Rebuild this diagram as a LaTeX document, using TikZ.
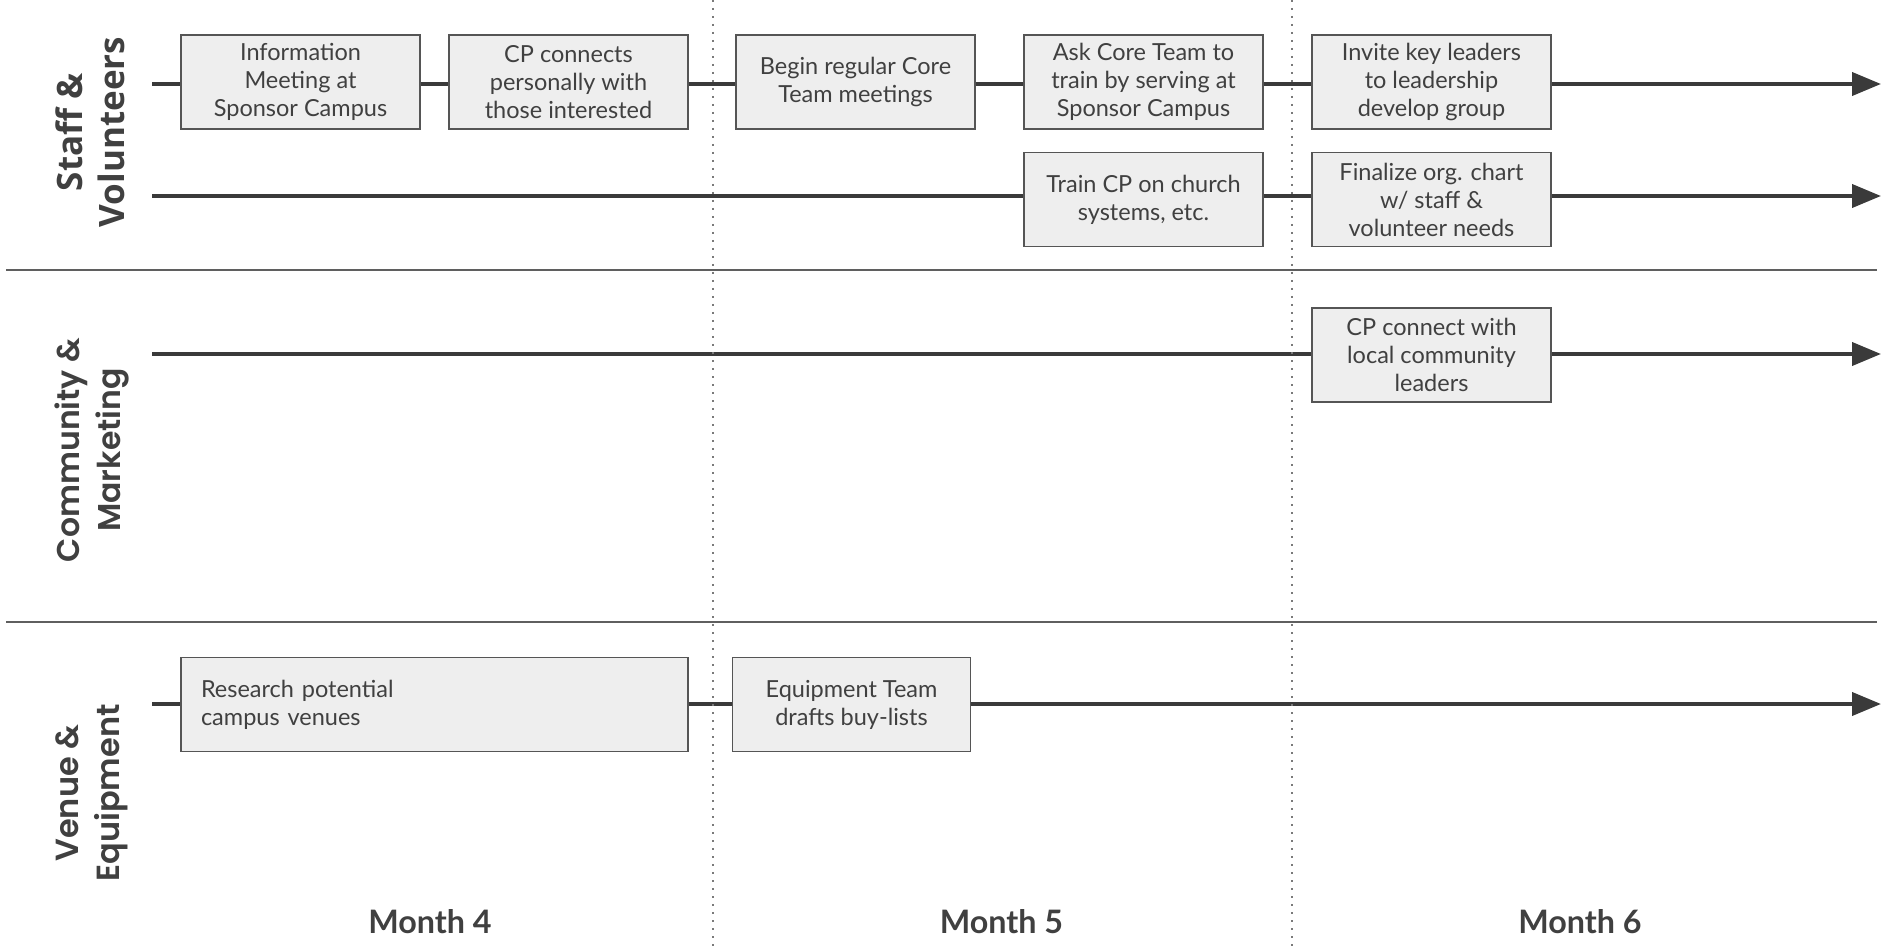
\documentclass[tikz,border=0pt]{standalone}
\usepackage{fontspec}
\setmainfont{Lato}
\newfontfamily\staffont{Open Sans}
\newfontfamily\wideont{Poppins SemiBold}
\usetikzlibrary{arrows.meta}
\definecolor{txtgray}{HTML}{404040}
\definecolor{tlgray}{HTML}{3A3A3A}
\definecolor{boxfill}{HTML}{EEEEEE}
\definecolor{boxline}{HTML}{555555}
\definecolor{sepgray}{HTML}{5F5F5F}
\definecolor{dotgray}{HTML}{7A7A7A}
\tikzset{
  task/.style={draw=boxline, line width=1.6pt, fill=boxfill, text=txtgray,
    minimum width=239pt, minimum height=94pt, inner sep=0pt, align=center,
    font=\fontsize{23.5}{28}\selectfont},
  tline/.style={draw=tlgray, line width=4pt},
  tarrow/.style={tline, -{Triangle[length=29pt,width=23pt]}},
  sep/.style={draw=sepgray, line width=2pt},
  monthsep/.style={draw=dotgray, line width=1.6pt, dash pattern=on 1.6pt off 6.4pt},
  rowlabel/.style={rotate=90, align=center, text=txtgray},
  month/.style={text=txtgray, font=\fontsize{32.3}{36}\selectfont\bfseries}
}
\begin{document}
\begin{tikzpicture}[x=1pt,y=-1pt]
\useasboundingbox (0,0) rectangle (1883,952);

% row labels
\node[rowlabel, font=\staffont\bfseries\fontsize{35}{42}\selectfont] (lab1) at (90,132) {Staff \&\\Volunteers};
\node[rowlabel, font=\wideont\fontsize{31.5}{41}\selectfont] (lab2) at (92,450) {Community \&\\Marketing};
\node[rowlabel, font=\wideont\fontsize{32}{41}\selectfont] (lab3) at (92,793) {Venue \&\\Equipment};

% separators
\coordinate (sepA1) at (6,270); \coordinate (sepA2) at (1877,270);
\coordinate (sepB1) at (6,622); \coordinate (sepB2) at (1877,622);
\draw[sep] (sepA1) -- (sepA2);
\draw[sep] (sepB1) -- (sepB2);

% tasks row 1
\node[task] (b1) at (300.5,82) {Information\\Meeting at\\Sponsor Campus};
\node[task] (b2) at (568.5,82) {CP connects\\personally with\\those interested};
\node[task] (b3) at (855.5,82) {Begin regular Core\\Team meetings};
\node[task] (b4) at (1143.5,82) {Ask Core Team to\\train by serving at\\Sponsor Campus};
\node[task] (b5) at (1431.5,82) {Invite key leaders\\to leadership\\develop group};
% row 2
\node[task] (b6) at (1143.5,199.5) {Train CP on church\\systems, etc.};
\node[task] (b7) at (1431.5,199.5) {Finalize org. chart\\w/ staff \&\\volunteer needs};
% row 3
\node[task] (b8) at (1431.5,355) {CP connect with\\local community\\leaders};
% row 4
\node[task, minimum width=507pt, text width=467pt, align=left] (b9) at (434.5,704.5) {Research potential\\campus venues};
\node[task, minimum width=238pt] (b10) at (851.5,704.5) {Equipment Team\\drafts buy-lists};

% timeline coordinates
\coordinate (s1) at (152,84);  \coordinate (e1) at (1881,84);
\coordinate (s2) at (152,196); \coordinate (e2) at (1881,196);
\coordinate (s3) at (152,354); \coordinate (e3) at (1881,354);
\coordinate (s4) at (152,704); \coordinate (e4) at (1881,704);

% row 1 timeline
\draw[tline] (s1) -- (b1.west |- s1);
\draw[tline] (b1.east |- s1) -- (b2.west |- s1);
\draw[tline] (b2.east |- s1) -- (b3.west |- s1);
\draw[tline] (b3.east |- s1) -- (b4.west |- s1);
\draw[tline] (b4.east |- s1) -- (b5.west |- s1);
\draw[tarrow] (b5.east |- s1) -- (e1);
% row 2
\draw[tline] (s2) -- (b6.west |- s2);
\draw[tline] (b6.east |- s2) -- (b7.west |- s2);
\draw[tarrow] (b7.east |- s2) -- (e2);
% row 3
\draw[tline] (s3) -- (b8.west |- s3);
\draw[tarrow] (b8.east |- s3) -- (e3);
% row 4
\draw[tline] (s4) -- (b9.west |- s4);
\draw[tline] (b9.east |- s4) -- (b10.west |- s4);
\draw[tarrow] (b10.east |- s4) -- (e4);

% month separators
\coordinate (m1t) at (713,0); \coordinate (m1b) at (713,952);
\coordinate (m2t) at (1292,0); \coordinate (m2b) at (1292,952);
\draw[monthsep] (m1t) -- (m1b);
\draw[monthsep] (m2t) -- (m2b);

% month labels
\node[month] (mo4) at (430,922) {Month 4};
\node[month] (mo5) at (1001.5,922) {Month 5};
\node[month] (mo6) at (1580,922) {Month 6};
\end{tikzpicture}
\end{document}
